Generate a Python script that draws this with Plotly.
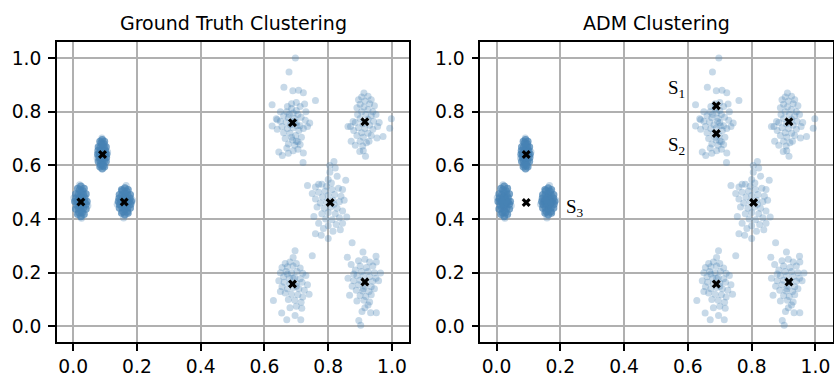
import plotly.graph_objects as go

# ---- point clouds, (x, y) pairs per group ----
# three tight groups on the left (dense cores plus a light fringe)
core_a = [(0.043, 0.466), (0.040, 0.494), (0.034, 0.514), (0.024, 0.522), (0.014, 0.514), (0.008, 0.494),
          (0.005, 0.466), (0.008, 0.438), (0.014, 0.418), (0.024, 0.410), (0.034, 0.418), (0.040, 0.438),
          (0.036, 0.466), (0.032, 0.491), (0.024, 0.502), (0.016, 0.491), (0.012, 0.466), (0.016, 0.441),
          (0.024, 0.430), (0.032, 0.441), (0.031, 0.466), (0.028, 0.480), (0.024, 0.486), (0.020, 0.480),
          (0.017, 0.466), (0.020, 0.452), (0.024, 0.446), (0.028, 0.452), (0.024, 0.466), (0.030, 0.505),
          (0.018, 0.425), (0.036, 0.480), (0.012, 0.452), (0.028, 0.425), (0.020, 0.508), (0.040, 0.455),
          (0.009, 0.478), (0.026, 0.472), (0.022, 0.458), (0.033, 0.462), (0.015, 0.470)]
core_b = [(0.105, 0.642), (0.103, 0.669), (0.098, 0.689), (0.091, 0.696), (0.084, 0.689), (0.079, 0.669),
          (0.077, 0.642), (0.079, 0.615), (0.084, 0.595), (0.091, 0.588), (0.098, 0.595), (0.103, 0.615),
          (0.100, 0.642), (0.097, 0.667), (0.091, 0.677), (0.085, 0.667), (0.082, 0.642), (0.085, 0.617),
          (0.091, 0.607), (0.097, 0.617), (0.096, 0.642), (0.095, 0.655), (0.091, 0.661), (0.087, 0.655),
          (0.086, 0.642), (0.087, 0.629), (0.091, 0.623), (0.095, 0.629), (0.091, 0.642), (0.096, 0.680),
          (0.086, 0.603), (0.101, 0.655), (0.081, 0.630), (0.094, 0.600), (0.088, 0.684), (0.104, 0.630),
          (0.078, 0.655), (0.093, 0.648), (0.089, 0.636), (0.099, 0.640), (0.083, 0.646)]
core_c = [(0.182, 0.466), (0.179, 0.491), (0.172, 0.509), (0.162, 0.516), (0.152, 0.509), (0.145, 0.491),
          (0.142, 0.466), (0.145, 0.441), (0.152, 0.423), (0.162, 0.416), (0.172, 0.423), (0.179, 0.441),
          (0.175, 0.466), (0.171, 0.489), (0.162, 0.498), (0.153, 0.489), (0.149, 0.466), (0.153, 0.443),
          (0.162, 0.434), (0.171, 0.443), (0.169, 0.466), (0.167, 0.478), (0.162, 0.484), (0.157, 0.478),
          (0.155, 0.466), (0.157, 0.454), (0.162, 0.448), (0.167, 0.454), (0.162, 0.466), (0.168, 0.503),
          (0.156, 0.428), (0.178, 0.478), (0.146, 0.454), (0.170, 0.428), (0.154, 0.505), (0.180, 0.455),
          (0.144, 0.478), (0.164, 0.472), (0.160, 0.460), (0.171, 0.462), (0.153, 0.470)]
fringe_abc = [(0.002, 0.480), (0.046, 0.450), (0.026, 0.403), (0.020, 0.528), (0.108, 0.650), (0.090, 0.702),
              (0.075, 0.628), (0.186, 0.470), (0.138, 0.455), (0.158, 0.404), (0.166, 0.525)]

# five looser groups on the right
group_d = [(0.697, 1.000), (0.677, 0.948), (0.661, 0.891), (0.689, 0.878), (0.707, 0.880), (0.722, 0.871),
           (0.624, 0.826), (0.760, 0.842), (0.726, 0.829), (0.637, 0.774), (0.624, 0.747), (0.742, 0.758),
           (0.656, 0.637), (0.721, 0.611), (0.722, 0.646), (0.675, 0.645), (0.690, 0.655), (0.705, 0.660),
           (0.645, 0.650), (0.670, 0.800), (0.685, 0.812), (0.700, 0.805), (0.690, 0.795), (0.705, 0.790),
           (0.660, 0.785), (0.675, 0.778), (0.695, 0.775), (0.715, 0.780), (0.650, 0.765), (0.668, 0.762),
           (0.682, 0.752), (0.700, 0.760), (0.712, 0.748), (0.728, 0.768), (0.655, 0.745), (0.672, 0.738),
           (0.690, 0.740), (0.708, 0.730), (0.722, 0.738), (0.660, 0.722), (0.680, 0.720), (0.698, 0.712),
           (0.716, 0.705), (0.665, 0.700), (0.688, 0.695), (0.705, 0.688), (0.675, 0.680), (0.695, 0.675),
           (0.712, 0.678), (0.640, 0.735), (0.735, 0.745), (0.685, 0.830), (0.700, 0.835), (0.672, 0.820),
           (0.712, 0.820), (0.650, 0.800), (0.730, 0.800), (0.640, 0.770), (0.693, 0.765), (0.678, 0.790),
           (0.702, 0.748), (0.685, 0.705), (0.670, 0.665), (0.700, 0.690)]
group_e = [(0.912, 0.870), (0.998, 0.774), (0.993, 0.739), (0.972, 0.708), (0.953, 0.702), (0.917, 0.634),
           (0.899, 0.652), (0.872, 0.690), (0.862, 0.745), (0.878, 0.764), (0.905, 0.855), (0.925, 0.858),
           (0.895, 0.845), (0.935, 0.845), (0.915, 0.840), (0.900, 0.828), (0.930, 0.830), (0.945, 0.822),
           (0.890, 0.815), (0.912, 0.818), (0.925, 0.808), (0.940, 0.800), (0.905, 0.800), (0.892, 0.790),
           (0.918, 0.790), (0.935, 0.785), (0.950, 0.790), (0.900, 0.775), (0.925, 0.772), (0.942, 0.765),
           (0.885, 0.760), (0.908, 0.755), (0.930, 0.750), (0.895, 0.740), (0.915, 0.738), (0.940, 0.735),
           (0.955, 0.745), (0.880, 0.730), (0.905, 0.722), (0.925, 0.720), (0.890, 0.712), (0.910, 0.705),
           (0.935, 0.712), (0.900, 0.690), (0.920, 0.685), (0.885, 0.675), (0.908, 0.672), (0.928, 0.690),
           (0.910, 0.655), (0.960, 0.760), (0.870, 0.745)]
group_f = [(0.818, 0.615), (0.822, 0.590), (0.805, 0.575), (0.828, 0.560), (0.735, 0.525), (0.760, 0.520),
           (0.780, 0.530), (0.795, 0.522), (0.855, 0.545), (0.750, 0.495), (0.770, 0.500), (0.790, 0.505),
           (0.812, 0.510), (0.832, 0.515), (0.760, 0.475), (0.782, 0.482), (0.800, 0.488), (0.820, 0.492),
           (0.840, 0.485), (0.775, 0.460), (0.795, 0.465), (0.815, 0.470), (0.835, 0.465), (0.850, 0.470),
           (0.765, 0.445), (0.788, 0.440), (0.808, 0.445), (0.828, 0.440), (0.780, 0.420), (0.800, 0.425),
           (0.822, 0.420), (0.845, 0.430), (0.755, 0.410), (0.792, 0.400), (0.812, 0.398), (0.835, 0.405),
           (0.858, 0.408), (0.770, 0.385), (0.800, 0.375), (0.825, 0.380), (0.845, 0.385), (0.785, 0.365),
           (0.815, 0.355), (0.838, 0.360), (0.778, 0.340), (0.800, 0.328), (0.760, 0.345), (0.810, 0.535),
           (0.800, 0.548), (0.845, 0.510), (0.770, 0.530), (0.818, 0.455), (0.805, 0.600)]
group_g = [(0.696, 0.282), (0.750, 0.263), (0.690, 0.257), (0.665, 0.235), (0.680, 0.240), (0.700, 0.235),
           (0.655, 0.220), (0.672, 0.222), (0.690, 0.225), (0.712, 0.218), (0.650, 0.200), (0.668, 0.205),
           (0.685, 0.200), (0.702, 0.205), (0.720, 0.198), (0.660, 0.185), (0.678, 0.180), (0.695, 0.182),
           (0.712, 0.178), (0.730, 0.190), (0.645, 0.170), (0.662, 0.165), (0.680, 0.160), (0.700, 0.162),
           (0.718, 0.165), (0.735, 0.155), (0.655, 0.148), (0.672, 0.140), (0.690, 0.145), (0.708, 0.140),
           (0.725, 0.135), (0.665, 0.125), (0.685, 0.120), (0.705, 0.118), (0.720, 0.110), (0.675, 0.100),
           (0.695, 0.098), (0.715, 0.090), (0.628, 0.097), (0.700, 0.075), (0.717, 0.068), (0.680, 0.070),
           (0.654, 0.050), (0.670, 0.025), (0.714, 0.025), (0.696, 0.041), (0.690, 0.180), (0.700, 0.150),
           (0.672, 0.195), (0.740, 0.120), (0.650, 0.130)]
group_h = [(0.875, 0.312), (0.860, 0.258), (0.909, 0.277), (0.872, 0.231), (0.950, 0.262), (0.951, 0.240),
           (0.964, 0.199), (0.862, 0.180), (0.867, 0.116), (0.906, 0.056), (0.896, 0.022), (0.902, 0.004),
           (0.933, 0.051), (0.951, 0.051), (0.930, 0.091), (0.895, 0.245), (0.915, 0.250), (0.930, 0.240),
           (0.940, 0.225), (0.900, 0.225), (0.920, 0.220), (0.885, 0.210), (0.905, 0.205), (0.925, 0.205),
           (0.945, 0.200), (0.890, 0.190), (0.910, 0.188), (0.930, 0.185), (0.950, 0.180), (0.880, 0.170),
           (0.900, 0.172), (0.920, 0.165), (0.940, 0.168), (0.875, 0.150), (0.895, 0.155), (0.915, 0.150),
           (0.935, 0.148), (0.888, 0.135), (0.908, 0.132), (0.928, 0.130), (0.945, 0.140), (0.900, 0.115),
           (0.918, 0.112), (0.935, 0.118), (0.912, 0.098), (0.925, 0.080), (0.915, 0.070), (0.890, 0.095),
           (0.958, 0.170), (0.880, 0.195), (0.910, 0.140)]

# ---- cluster centres ----
truth_cx = [0.024, 0.092, 0.160, 0.688, 0.915, 0.806, 0.688, 0.915]
truth_cy = [0.464, 0.641, 0.464, 0.759, 0.763, 0.462, 0.158, 0.166]
adm_cx = [0.093, 0.093, 0.689, 0.689, 0.917, 0.806, 0.689, 0.917]
adm_cy = [0.641, 0.462, 0.822, 0.719, 0.763, 0.462, 0.158, 0.166]

# ---- text ----
panel_titles = ["Ground Truth Clustering", "ADM Clustering"]
tick_vals = [0.0, 0.2, 0.4, 0.6, 0.8, 1.0]
tick_text = ["0.0", "0.2", "0.4", "0.6", "0.8", "1.0"]
set_labels = ["S<sub>1</sub>", "S<sub>2</sub>", "S<sub>3</sub>"]
set_label_x = [0.563, 0.563, 0.247]
set_label_y = [0.884, 0.672, 0.441]

STEEL = "70,130,180"
light_pts = fringe_abc + group_d + group_e + group_f + group_g + group_h
dense_pts = core_a + core_b + core_c

fig = go.Figure()
panels = [("x", "y", truth_cx, truth_cy), ("x2", "y2", adm_cx, adm_cy)]
for xa, ya, cx, cy in panels:
    fig.add_trace(go.Scatter(
        x=[p[0] for p in dense_pts], y=[p[1] for p in dense_pts], xaxis=xa, yaxis=ya,
        mode="markers", marker=dict(size=7.5, color=f"rgba({STEEL},0.72)", line=dict(width=0)),
        hoverinfo="skip", showlegend=False))
    fig.add_trace(go.Scatter(
        x=[p[0] for p in light_pts], y=[p[1] for p in light_pts], xaxis=xa, yaxis=ya,
        mode="markers", marker=dict(size=7, color=f"rgba({STEEL},0.3)", line=dict(width=0)),
        hoverinfo="skip", showlegend=False))
    fig.add_trace(go.Scatter(
        x=cx, y=cy, xaxis=xa, yaxis=ya, mode="markers",
        marker=dict(symbol="x", size=8, color="black", line=dict(width=0)),
        hoverinfo="skip", showlegend=False))

tick_font = dict(family="DejaVu Sans", size=18.7, color="black")
axis_common = dict(
    tickvals=tick_vals, ticktext=tick_text, showgrid=True, gridcolor="#b0b0b0", gridwidth=1.5,
    zeroline=False, showline=True, linecolor="black", linewidth=1.6, mirror=True,
    ticks="outside", ticklen=7, tickwidth=1.5, tickcolor="black", tickfont=tick_font,
)
x_range = [-0.051, 1.055]
y_range = [-0.058, 1.06]
left_dom = [0.0683, 0.4910]
right_dom = [0.5759, 0.9988]

fig.update_layout(
    width=834, height=376,
    margin=dict(l=0, r=0, t=42, b=34),
    paper_bgcolor="white", plot_bgcolor="white",
    xaxis=dict(domain=left_dom, range=x_range, anchor="y", **axis_common),
    yaxis=dict(domain=[0, 1], range=y_range, anchor="x", ticklabelstandoff=3, **axis_common),
    xaxis2=dict(domain=right_dom, range=x_range, anchor="y2", **axis_common),
    yaxis2=dict(domain=[0, 1], range=y_range, anchor="x2", ticklabelstandoff=3, **axis_common),
)

annotations = []
for title, dom in zip(panel_titles, [left_dom, right_dom]):
    annotations.append(dict(
        text=title, x=(dom[0] + dom[1]) / 2, y=1.065, xref="paper", yref="paper",
        xanchor="center", yanchor="middle", showarrow=False,
        font=dict(family="DejaVu Sans", size=19, color="black")))
for lab, lx, ly in zip(set_labels, set_label_x, set_label_y):
    annotations.append(dict(
        text=lab, x=lx, y=ly, xref="x2", yref="y2", xanchor="center", yanchor="middle",
        showarrow=False, font=dict(family="Liberation Serif", size=19, color="black")))
fig.update_layout(annotations=annotations)

fig.write_html("out.html")
